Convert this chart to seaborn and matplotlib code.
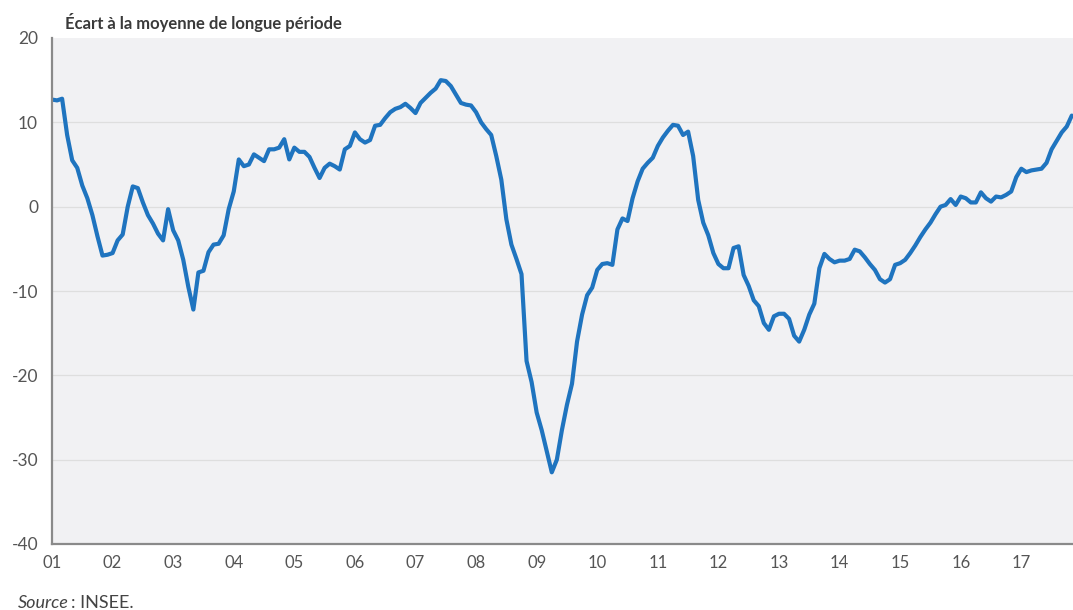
import numpy as np
import pandas as pd
import matplotlib
matplotlib.use("Agg")
import matplotlib.pyplot as plt
import seaborn as sns


# ── Data : monthly values, Jan 2001 .. Nov 2017 ──────────────────────────────

start_year = 2001
start_month = 1

v2001 = [12.7, 12.6, 12.8, 8.5, 5.5, 4.6, 2.5, 1.0, -1.0, -3.5, -5.8, -5.7]
v2002 = [-5.5, -4.0, -3.3, 0.0, 2.4, 2.2, 0.5, -1.0, -2.0, -3.2, -4.0, -0.3]
v2003 = [-2.8, -4.0, -6.3, -9.5, -12.2, -7.8, -7.6, -5.4, -4.5, -4.4, -3.4, -0.3]
v2004 = [1.8, 5.6, 4.8, 5.0, 6.2, 5.8, 5.4, 6.8, 6.8, 7.0, 8.0, 5.6]
v2005 = [7.0, 6.5, 6.5, 5.9, 4.6, 3.4, 4.6, 5.1, 4.8, 4.4, 6.8, 7.2]
v2006 = [8.8, 8.0, 7.6, 7.9, 9.6, 9.7, 10.5, 11.2, 11.6, 11.8, 12.2, 11.7]
v2007 = [11.1, 12.3, 12.9, 13.5, 14.0, 15.0, 14.9, 14.3, 13.3, 12.3, 12.1, 12.0]
v2008 = [11.2, 10.0, 9.2, 8.5, 6.0, 3.2, -1.5, -4.5, -6.2, -8.0, -18.3, -20.8]
v2009 = [-24.4, -26.5, -29.0, -31.5, -30.0, -26.5, -23.5, -21.0, -16.0, -12.8, -10.5, -9.6]
v2010 = [-7.5, -6.8, -6.7, -6.9, -2.7, -1.4, -1.7, 1.0, 3.0, 4.5, 5.2, 5.8]
v2011 = [7.2, 8.2, 9.0, 9.7, 9.6, 8.5, 8.9, 6.0, 0.8, -1.9, -3.4, -5.5]
v2012 = [-6.8, -7.3, -7.3, -4.9, -4.7, -8.1, -9.4, -11.1, -11.8, -13.8, -14.6, -13.0]
v2013 = [-12.7, -12.7, -13.3, -15.3, -16.0, -14.6, -12.8, -11.5, -7.3, -5.6, -6.2, -6.6]
v2014 = [-6.4, -6.4, -6.2, -5.1, -5.3, -6.0, -6.8, -7.5, -8.6, -9.0, -8.6, -6.9]
v2015 = [-6.7, -6.3, -5.5, -4.6, -3.6, -2.7, -1.9, -0.9, 0.0, 0.2, 0.9, 0.2]
v2016 = [1.2, 1.0, 0.5, 0.5, 1.7, 1.0, 0.6, 1.2, 1.1, 1.4, 1.8, 3.5]
v2017 = [4.5, 4.1, 4.3, 4.4, 4.5, 5.2, 6.8, 7.8, 8.8, 9.5, 10.8]

tick_years = list(range(2001, 2018))
tick_labels = [f"{y % 100:02d}" for y in tick_years]
y_ticks = [-40, -30, -20, -10, 0, 10, 20]

title = "Écart à la moyenne de longue période"


# ── Build frame ──────────────────────────────────────────────────────────────

values = (v2001 + v2002 + v2003 + v2004 + v2005 + v2006 + v2007 + v2008
          + v2009 + v2010 + v2011 + v2012 + v2013 + v2014 + v2015 + v2016
          + v2017)
dates = pd.date_range(f"{start_year}-{start_month:02d}", periods=len(values), freq="MS")
df = pd.DataFrame({
    "t": dates.year + (dates.month - 1) / 12.0,
    "value": values,
})


# ── Plot ─────────────────────────────────────────────────────────────────────

sns.set_style("white")
plt.rcParams["font.family"] = ["Lato", "DejaVu Sans"]

fig = plt.figure(figsize=(10.73, 6.10), dpi=100)
ax = fig.add_axes([52 / 1073, 66 / 610, 1 - 52 / 1073, 506 / 610])
ax.set_facecolor("#f1f1f3")

sns.lineplot(data=df, x="t", y="value", ax=ax, color="#1f74bf",
             linewidth=3.0, solid_joinstyle="round", clip_on=True)

ax.set_xlim(df["t"].iloc[0], df["t"].iloc[-1] + 0.02)
ax.set_ylim(-40, 20)
ax.set_yticks(y_ticks)
ax.set_yticklabels([str(v) for v in y_ticks])
ax.set_xticks(tick_years)
ax.set_xticklabels(tick_labels)

for v in y_ticks[1:-1]:
    ax.axhline(v, color="#dedede", linewidth=0.9, zorder=0)

for side in ("top", "right"):
    ax.spines[side].set_visible(False)
for side in ("left", "bottom"):
    ax.spines[side].set_color("#8a8a8a")
    ax.spines[side].set_linewidth(1.6)

ax.tick_params(axis="x", length=5, width=1.2, color="#8a8a8a",
               labelsize=12, labelcolor="#555555", pad=3)
ax.tick_params(axis="y", length=0, labelsize=12.5, labelcolor="#555555", pad=10)
ax.set_xlabel("")
ax.set_ylabel("")

fig.text(65 / 1073, 1 - 22 / 610, title, fontsize=12, fontweight="bold",
         color="#3a3a3a", va="center", ha="left")
fig.text(18 / 1073, 1 - 603 / 610, "Source", fontsize=13, style="italic",
         color="#444444", va="center", ha="left")
fig.text(71 / 1073, 1 - 603 / 610, ": INSEE.", fontsize=13,
         color="#444444", va="center", ha="left")

fig.savefig("out.png", dpi=100)
plt.close(fig)
